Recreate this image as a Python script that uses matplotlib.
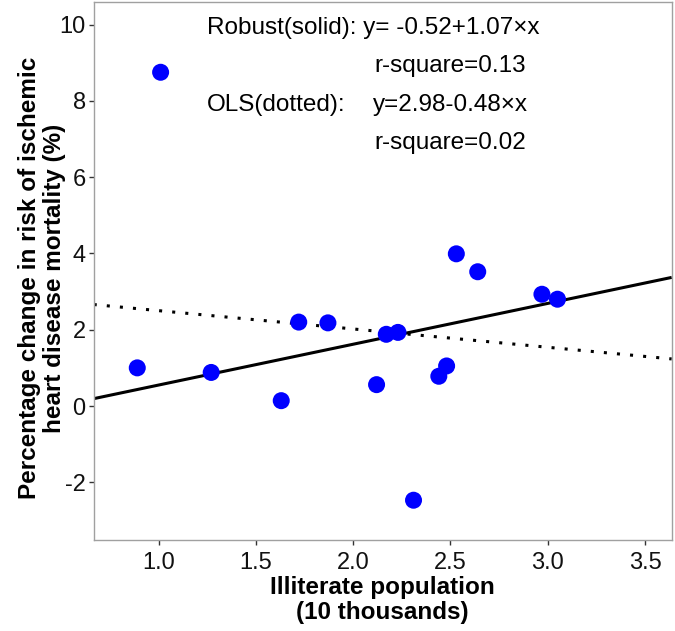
import matplotlib.pyplot as plt

plt.rcParams['font.family'] = ['Liberation Sans', 'DejaVu Sans']
plt.rcParams['axes.unicode_minus'] = False

# Illiterate population (10 thousands) vs % change in IHD mortality risk
illiterate = [0.89, 1.01, 1.27, 1.63, 1.72, 1.87, 2.12, 2.17, 2.23, 2.31,
              2.44, 2.48, 2.53, 2.64, 2.97, 3.05]
pct_change = [1.00, 8.75, 0.88, 0.14, 2.20, 2.18, 0.56, 1.88, 1.93, -2.47,
              0.78, 1.05, 3.99, 3.52, 2.93, 2.80]

# fitted lines, taken from the annotation
robust_intercept, robust_slope = -0.52, 1.07
ols_intercept, ols_slope = 2.98, -0.48

x_ticks = [1.0, 1.5, 2.0, 2.5, 3.0, 3.5]
y_ticks = [-2, 0, 2, 4, 6, 8, 10]

fig = plt.figure(figsize=(6.75, 6.31), dpi=100)
ax = fig.add_axes([0.1388, 0.145, 0.8563, 0.8523])

ax.axline((0, robust_intercept), slope=robust_slope, color='black', lw=2.2,
          solid_capstyle='butt')
ax.axline((0, ols_intercept), slope=ols_slope, color='black', lw=2.2,
          linestyle=(0, (1, 3.3)))
ax.scatter(illiterate, pct_change, s=150, color='#0000ff', edgecolors='none',
           zorder=3)

ax.set_xlim(0.666, 3.637)
ax.set_ylim(-3.5, 10.6)
ax.set_xticks(x_ticks)
ax.set_xticklabels(['%.1f' % t for t in x_ticks])
ax.set_yticks(y_ticks)

for side in ax.spines.values():
    side.set_color('#a0a0a0')
    side.set_linewidth(1.0)
ax.tick_params(labelsize=17, length=3.8, width=1.0, color='#333333',
               labelcolor='#111111')
ax.tick_params(axis='x', pad=5)
ax.tick_params(axis='y', pad=2)

ax.set_xlabel('Illiterate population\n(10 thousands)', fontsize=17.5,
              fontweight='bold', linespacing=1.12, va='top')
ax.xaxis.set_label_coords(0.5, -0.068)
ax.set_ylabel('Percentage change in risk of ischemic\nheart disease mortality (%)',
              fontsize=17.5, fontweight='bold', linespacing=1.12)
ax.yaxis.set_label_coords(-0.048, 0.486)

# annotation block
fs = 17.5
ax.text(0.196, 0.951, 'Robust(solid): y= -0.52+1.07\u00d7x', transform=ax.transAxes,
        fontsize=fs, va='center', ha='left')
ax.text(0.485, 0.880, 'r-square=0.13', transform=ax.transAxes,
        fontsize=fs, va='center', ha='left')
ax.text(0.196, 0.808, 'OLS(dotted):', transform=ax.transAxes,
        fontsize=fs, va='center', ha='left')
ax.text(0.483, 0.808, 'y=2.98-0.48\u00d7x', transform=ax.transAxes,
        fontsize=fs, va='center', ha='left')
ax.text(0.485, 0.737, 'r-square=0.02', transform=ax.transAxes,
        fontsize=fs, va='center', ha='left')

fig.savefig('out.png', dpi=100)
